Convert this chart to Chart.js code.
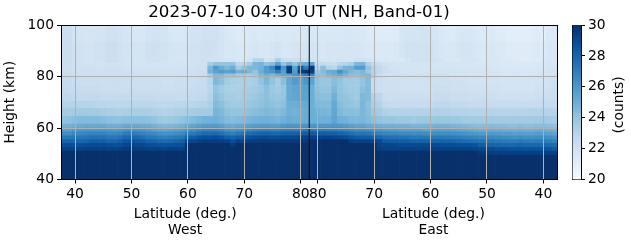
<!doctype html>
<html lang="en">

<head>
	<meta charset="utf-8">
	<title>2023-07-10 04:30 UT (NH, Band-01)</title>
	<style>
		* {
			margin: 0;
			padding: 0;
		}

		body {
			background: white;
			overflow: hidden;
		}

		canvas {
			position: absolute;
			top: 0;
		}

		#heatChart {
			left: 0;
		}

		#barChart {
			left: 560px;
		}
	</style>
</head>

<body>
	<canvas id="heatChart" width="598" height="243"></canvas>
	<canvas id="barChart" width="71" height="243"></canvas>
	<script src="https://cdn.jsdelivr.net/npm/chart.js"></script>

	<script>
		const chartTitle = '2023-07-10 04:30 UT (NH, Band-01)'

		// column latitudes, left to right: west going to the pole, then east coming back
		const latWest = [38, 39, 40, 41, 42, 43, 44, 45, 46, 47, 48, 49, 50, 51, 52, 53, 54, 55, 56, 57, 58, 59, 60, 61, 62, 63, 64, 65, 66, 67, 68, 69, 70, 71, 72, 73, 74, 75, 76, 77, 78, 79, 80, 81]
		const latEast = [81, 80, 79, 78, 77, 76, 75, 74, 73, 72, 71, 70, 69, 68, 67, 66, 65, 64, 63, 62, 61, 60, 59, 58, 57, 56, 55, 54, 53, 52, 51, 50, 49, 48, 47, 46, 45, 44, 43, 42, 41, 40, 39, 38]
		const poleLat = 81.5

		const xTickLats = [40, 50, 60, 70, 80]
		const yTicks = [40, 60, 80, 100]

		// height bands in km, bottom edge of each row then the top of the last one
		const bandEdges = [40, 49.5, 51, 52.5, 54, 55.5, 57, 58.5, 60, 61.5, 64.5, 67.5, 70.5, 73.5, 76.5, 79.5, 81, 82.5, 84, 85.5, 87, 93.5, 100]

		// counts per band, saturated below 49.5 km
		const r40 = [30, 30, 30, 30, 30, 30, 30, 30, 30, 30, 30, 30, 30, 30, 30, 30, 30, 30, 30, 30, 30, 30, 30, 30, 30, 30, 30, 30, 30, 30, 30, 30, 30, 30, 30, 30, 30, 30, 30, 30, 30, 30, 30, 30,
			30, 30, 30, 30, 30, 30, 30, 30, 30, 30, 30, 30, 30, 30, 30, 30, 30, 30, 30, 30, 30, 30, 30, 30, 30, 30, 30, 30, 30, 30, 30, 30, 30, 30, 30, 30, 30, 30, 30, 30, 30, 30, 30, 30]
		const r49 = [30, 30, 30, 30, 30, 30, 30, 30, 30, 30, 30, 30, 30, 30, 30, 30, 30, 30, 30, 30, 30, 30, 30, 30, 30, 30, 30, 30, 30, 30, 30, 30, 30, 30, 30, 30, 30, 30, 30, 30, 30, 30, 30, 30,
			30, 30, 30, 30, 30, 30, 30, 30, 30, 30, 30, 30, 30, 30, 30, 30, 30, 30, 30, 30, 30, 30, 30, 30, 30, 30, 30, 30, 30, 30, 29.7, 29.6, 29.5, 29.5, 29.4, 29.4, 29.4, 29.4, 29.4, 29.4, 29.4, 29.4, 29.4, 29.4, 29.4, 29.4, 29.3, 29.2]
		const r51 = [29.3, 29.3, 29.3, 29.3, 29.4, 29.4, 29.4, 29.4, 29.3, 29.3, 29.4, 29.6, 29.6, 29.5, 29.5, 29.4, 29.3, 29.3, 29.2, 29.3, 29.3, 29.3, 30, 30, 30, 30, 30, 30, 30, 30, 30, 30, 30, 30, 30, 30, 30, 30, 30, 30, 30, 30, 30, 30,
			30, 30, 30, 30, 30, 30, 30, 30, 30, 30, 30, 30, 29.5, 29.4, 29.3, 29.3, 29.3, 29.3, 29.3, 29.3, 29.3, 29.3, 29.3, 29.3, 29.3, 29.3, 29.3, 29.3, 29.3, 29.2, 29.1, 29, 29, 28.8, 28.9, 28.8, 28.7, 28.7, 28.6, 28.7, 28.6, 28.7, 28.6, 28.4, 28.3]
		const r52 = [28.9, 28.9, 28.8, 28.8, 28.9, 29, 29, 29, 28.9, 28.8, 28.9, 29.2, 29.2, 29.1, 29.1, 28.9, 28.8, 28.7, 28.6, 28.7, 28.8, 28.8, 30, 30, 30, 30, 30, 30, 30, 30, 29.6, 30, 30, 30, 30, 30, 30, 30, 30, 30, 30, 30, 30, 30,
			30, 30, 30, 30, 30, 30, 30, 30, 30, 30, 30, 30, 29.3, 29.2, 29.2, 29.1, 29, 29, 29, 29.1, 29.1, 29, 29, 28.9, 28.9, 28.9, 28.8, 28.8, 28.8, 28.7, 28.3, 28.1, 28, 28, 27.9, 27.9, 27.9, 28, 27.9, 27.9, 27.9, 27.8, 27.8, 27.7]
		const r54 = [28, 28, 27.9, 27.9, 28, 28.2, 28.2, 28.2, 28, 28, 28.2, 28.6, 28.6, 28.5, 28.4, 28.1, 28, 27.8, 27.7, 27.8, 28, 28.2, 29, 29.2, 29.4, 29.5, 29.5, 29.5, 29.5, 29.3, 28.8, 29.4, 29.3, 29.5, 29.5, 29.6, 29.6, 29.6, 29.6, 29.6, 29.6, 29.6, 29.7, 29.7,
			30, 30, 30, 30, 30, 30, 30, 29.5, 29.4, 29.4, 29.3, 29.2, 29, 28.4, 28.3, 28.3, 28.2, 28.2, 28.1, 28.1, 28.1, 28, 28, 28.1, 28, 28, 27.8, 27.7, 27.6, 27.5, 27.4, 27.4, 27.3, 27.2, 27.2, 27.1, 27.1, 27.2, 27.1, 27, 27.1, 27.1, 27, 26.9]
		const r55 = [27.2, 27.2, 27.3, 27.3, 27.4, 27.5, 27.5, 27.5, 27.3, 27.3, 27.5, 27.9, 27.9, 27.8, 27.6, 27.3, 27.2, 27, 26.9, 27, 27.2, 27.3, 28, 28.3, 28.6, 28.8, 28.8, 28.9, 28.6, 28.2, 28, 28.3, 28.5, 28.7, 28.9, 29, 29, 28.9, 28.9, 29.1, 29.1, 29.1, 29.2, 29.3,
			29.4, 29.3, 29.3, 29.3, 29.2, 29.1, 28.9, 28.6, 28.4, 28.3, 28.3, 28.1, 27.9, 27.6, 27.5, 27.5, 27.4, 27.4, 27.3, 27.3, 27.3, 27.2, 27.2, 27.2, 27.2, 27.1, 27, 26.9, 26.8, 26.7, 26.6, 26.6, 26.6, 26.5, 26.4, 26.4, 26.3, 26.4, 26.3, 26.3, 26.4, 26.4, 26.3, 26.2]
		const r57 = [26.4, 26.4, 26.6, 26.6, 26.7, 26.8, 26.8, 26.8, 26.6, 26.6, 26.7, 27.1, 27.1, 27, 26.8, 26.6, 26.5, 26.3, 26.1, 26.2, 26.4, 26.5, 27, 27.2, 27.5, 27.8, 27.7, 27.8, 27.5, 27.1, 26.9, 27.2, 27.4, 27.7, 27.9, 28, 28, 27.9, 27.9, 28.1, 28.1, 28.1, 28.2, 28.3,
			28.4, 28.3, 28.3, 28.2, 28.2, 28, 27.9, 27.6, 27.4, 27.4, 27.3, 27.1, 26.9, 26.7, 26.6, 26.6, 26.5, 26.5, 26.4, 26.5, 26.4, 26.3, 26.4, 26.4, 26.4, 26.3, 26.2, 26.1, 26, 25.9, 25.8, 25.8, 25.9, 25.8, 25.7, 25.7, 25.6, 25.7, 25.6, 25.6, 25.7, 25.7, 25.6, 25.5]
		const r58 = [25.6, 25.6, 25.8, 25.9, 26, 26, 26, 26, 25.9, 25.8, 25.9, 26.2, 26.2, 26.1, 26, 25.8, 25.6, 25.4, 25.3, 25.4, 25.6, 25.7, 26.1, 26.3, 26.6, 26.8, 26.8, 26.8, 26.6, 26.1, 26, 26.2, 26.4, 26.6, 26.8, 26.9, 26.9, 26.8, 26.8, 27, 27, 27, 27.1, 27.2,
			27.2, 27.1, 27.1, 27, 27, 26.9, 26.8, 26.6, 26.4, 26.4, 26.3, 26.1, 26, 25.8, 25.7, 25.7, 25.6, 25.6, 25.6, 25.6, 25.5, 25.5, 25.6, 25.6, 25.6, 25.5, 25.4, 25.3, 25.2, 25.1, 25, 25, 25.1, 25, 25, 24.9, 24.9, 25, 24.9, 24.9, 25, 25, 24.9, 24.8]
		const r60 = [24.8, 24.8, 25, 25.1, 25.2, 25.2, 25.2, 25.2, 25, 25, 25, 25.2, 25.2, 25.2, 25.1, 25, 24.8, 24.6, 24.5, 24.6, 24.7, 24.8, 25.2, 25.4, 25.6, 25.8, 25.8, 25.8, 25.6, 25.2, 25.1, 25.3, 25.4, 25.6, 25.7, 25.8, 25.8, 25.7, 25.7, 25.9, 26, 26, 26, 26.1,
			26, 25.9, 25.9, 25.9, 26, 25.9, 25.8, 25.6, 25.4, 25.4, 25.2, 25.1, 25, 24.9, 24.9, 24.8, 24.8, 24.8, 24.7, 24.7, 24.7, 24.7, 24.8, 24.8, 24.8, 24.7, 24.6, 24.5, 24.4, 24.3, 24.3, 24.3, 24.4, 24.3, 24.3, 24.2, 24.2, 24.3, 24.2, 24.2, 24.3, 24.3, 24.2, 24.1]
		const r61 = [24.1, 24.1, 24.3, 24.4, 24.4, 24.4, 24.4, 24.3, 24.2, 24.1, 24.1, 24.2, 24.2, 24.2, 24.2, 24.1, 24, 23.8, 23.7, 23.8, 23.9, 24, 24.2, 24.4, 24.6, 24.8, 24.8, 24.9, 24.7, 24.4, 24.3, 24.4, 24.5, 24.7, 24.8, 24.9, 24.9, 24.8, 24.7, 24.9, 25.1, 25, 25, 25.1,
			25, 25, 24.9, 24.9, 25.4, 24.9, 24.8, 24.6, 24.5, 24.6, 24.4, 24.2, 24, 23.9, 23.9, 23.8, 23.8, 23.8, 23.7, 23.8, 23.8, 23.8, 23.9, 23.9, 23.9, 23.8, 23.8, 23.7, 23.6, 23.6, 23.6, 23.6, 23.7, 23.6, 23.6, 23.6, 23.6, 23.6, 23.6, 23.6, 23.7, 23.7, 23.6, 23.5]
		const r64 = [23.6, 23.5, 23.6, 23.7, 23.7, 23.6, 23.6, 23.5, 23.4, 23.4, 23.3, 23.4, 23.4, 23.4, 23.4, 23.4, 23.3, 23.2, 23.1, 23.2, 23.3, 23.3, 23.4, 23.5, 23.6, 23.6, 23.7, 24.7, 24.5, 24.1, 24, 24, 24, 24.2, 24.3, 24.4, 24.5, 24.4, 24.3, 24.5, 24.9, 24.8, 24.9, 25.1,
			25, 24.8, 24.7, 24.6, 25.3, 24.5, 24.3, 24.3, 24.2, 24.6, 24.3, 23.8, 23.5, 23.2, 23.1, 23.1, 23.1, 23.1, 23.1, 23.1, 23.1, 23.1, 23.2, 23.2, 23.2, 23.1, 23.1, 23.1, 23, 23, 23, 23, 23.1, 23, 23, 23, 23, 23, 23, 23, 23.1, 23.1, 23, 23]
		const r67 = [23, 23, 23, 23, 23, 23, 22.9, 22.9, 22.8, 22.8, 22.8, 22.8, 22.8, 22.8, 22.8, 22.8, 22.8, 22.7, 22.7, 22.7, 22.8, 22.8, 22.8, 22.9, 23, 23, 23.3, 24.4, 24.2, 23.8, 23.7, 23.7, 23.7, 23.9, 24, 24.1, 24.3, 24.1, 24, 24.2, 25, 25, 25.1, 25.2,
			25, 24.5, 24.4, 24.4, 25.2, 24.3, 24.1, 24, 23.9, 24.6, 24.2, 23.4, 23.1, 22.6, 22.5, 22.5, 22.5, 22.5, 22.5, 22.5, 22.5, 22.5, 22.7, 22.7, 22.7, 22.6, 22.6, 22.6, 22.5, 22.5, 22.5, 22.5, 22.5, 22.4, 22.4, 22.4, 22.4, 22.4, 22.4, 22.4, 22.5, 22.5, 22.5, 22.5]
		const r70 = [22.7, 22.7, 22.6, 22.6, 22.6, 22.6, 22.6, 22.5, 22.5, 22.5, 22.5, 22.5, 22.5, 22.5, 22.5, 22.5, 22.5, 22.4, 22.4, 22.4, 22.4, 22.4, 22.4, 22.5, 22.6, 22.6, 23, 24.2, 23.9, 23.5, 23.5, 23.4, 23.5, 23.7, 23.8, 24, 24.2, 23.9, 23.8, 24, 25.2, 25.3, 25.4, 25.5,
			25, 24.3, 24.2, 24.2, 24.9, 24.1, 24, 23.8, 23.7, 24.5, 24.4, 23.1, 22.8, 22.3, 22.2, 22.2, 22.2, 22.2, 22.2, 22.2, 22.2, 22.2, 22.4, 22.4, 22.4, 22.3, 22.3, 22.3, 22.2, 22.2, 22.2, 22.2, 22.2, 22.1, 22.1, 22.1, 22.1, 22.1, 22.1, 22.1, 22.2, 22.2, 22.2, 22.3]
		const r73 = [22.6, 22.5, 22.4, 22.4, 22.4, 22.4, 22.4, 22.3, 22.3, 22.3, 22.3, 22.3, 22.3, 22.3, 22.3, 22.3, 22.3, 22.3, 22.2, 22.2, 22.3, 22.3, 22.3, 22.4, 22.5, 22.5, 22.9, 24, 23.7, 23.4, 23.3, 23.3, 23.4, 23.5, 23.6, 23.8, 24.2, 23.8, 23.6, 23.9, 25.2, 25.4, 25.4, 25.6,
			25, 24.1, 24, 24, 24.5, 24, 23.8, 23.7, 23.6, 24.2, 24.4, 22.5, 22.2, 22.1, 22.1, 22.1, 22, 22, 22, 22, 22, 22, 22.2, 22.2, 22.2, 22.1, 22.1, 22.1, 22, 22, 22, 22, 22, 22, 21.9, 21.9, 21.9, 21.9, 21.9, 21.9, 22, 22, 22.1, 22.2]
		const r76 = [22.5, 22.5, 22.3, 22.3, 22.3, 22.3, 22.3, 22.2, 22.2, 22.3, 22.3, 22.2, 22.2, 22.2, 22.2, 22.2, 22.2, 22.2, 22.1, 22.1, 22.2, 22.2, 22.2, 22.3, 22.4, 22.4, 23, 24.5, 24.2, 23.6, 23.4, 23.3, 23.4, 23.3, 23.5, 24, 24.6, 24, 23.5, 24.2, 25.3, 25.8, 25.5, 26,
			25.5, 24, 23.9, 23.9, 24.3, 24, 23.7, 23.7, 23.6, 24, 24.4, 22.5, 22.2, 22.1, 22, 22, 22, 22, 22, 22, 22, 22.1, 22.1, 22.1, 22.1, 22, 22, 22, 21.9, 21.9, 21.9, 21.9, 21.9, 21.9, 21.8, 21.8, 21.8, 21.8, 21.8, 21.8, 21.9, 21.9, 22, 22.1]
		const r79 = [22.4, 22.4, 22.2, 22.2, 22.2, 22.2, 22.2, 22.2, 22.2, 22.2, 22.2, 22.2, 22.1, 22.1, 22.1, 22.1, 22.1, 22.1, 22.1, 22.1, 22.1, 22.1, 22.1, 22.2, 22.3, 22.3, 23.5, 24.5, 24.5, 24, 24, 23.5, 23.5, 23.5, 23.8, 24.5, 25, 24.5, 25, 25.3, 25.5, 26, 26.5, 27,
			26.8, 24.2, 24.2, 24.6, 24.9, 25.2, 24.6, 24.2, 24.2, 24.4, 24.5, 23, 22.3, 22.1, 22, 22, 22, 22, 22, 22, 22, 22, 22, 22, 22, 21.9, 21.9, 21.9, 21.8, 21.8, 21.8, 21.8, 21.8, 21.8, 21.7, 21.7, 21.7, 21.7, 21.7, 21.7, 21.8, 21.8, 21.9, 22]
		const r81 = [22.3, 22.3, 22.1, 22.1, 22.1, 22.1, 22.1, 22.1, 22.1, 22.1, 22.1, 22, 22, 22, 22, 22, 22, 22, 22, 22, 22, 22, 22, 22.1, 22.2, 22.2, 24.8, 25.5, 25.8, 25.5, 25.7, 24.8, 25.2, 24.5, 24, 25, 25.7, 26, 27, 25.7, 29.5, 25.8, 29.3, 29.8,
			29.5, 23.8, 24.3, 25, 25.2, 26.2, 25.2, 24.5, 24.3, 24.5, 23.8, 23, 22.6, 22.2, 22, 22, 21.9, 21.9, 21.9, 21.9, 21.9, 21.9, 21.9, 21.9, 21.9, 21.9, 21.8, 21.8, 21.8, 21.8, 21.8, 21.8, 21.7, 21.7, 21.6, 21.6, 21.6, 21.6, 21.6, 21.6, 21.7, 21.7, 21.8, 21.8]
		const r82 = [22.2, 22.2, 22, 22, 22, 22, 22, 22, 22, 22, 22, 21.9, 21.9, 21.9, 21.9, 21.9, 21.9, 21.9, 21.9, 21.9, 21.9, 21.9, 21.9, 22, 22.1, 22.1, 24.5, 25.8, 25, 24.5, 25, 23.5, 24, 24.5, 24.5, 24.8, 25.7, 26.5, 28.7, 26, 29.5, 25.5, 28.5, 27,
			29.7, 23, 24.3, 23, 22.8, 24, 24.7, 24.8, 25.7, 25.8, 24, 23.1, 22.6, 22.2, 21.9, 21.9, 21.9, 21.8, 21.8, 21.8, 21.8, 21.8, 21.8, 21.8, 21.8, 21.8, 21.7, 21.7, 21.7, 21.7, 21.7, 21.7, 21.6, 21.6, 21.5, 21.5, 21.5, 21.5, 21.5, 21.5, 21.6, 21.6, 21.7, 21.7]
		const r84 = [22.2, 22.2, 22, 22, 21.9, 21.9, 21.9, 21.9, 22, 22, 21.9, 21.8, 21.8, 21.8, 21.8, 21.9, 21.9, 21.9, 21.9, 21.8, 21.8, 21.8, 21.8, 21.9, 22, 22, 23.5, 24, 24, 24, 24, 22.8, 23, 23.5, 24.5, 24.7, 24, 24.3, 25.5, 24, 24.8, 24, 24.8, 25,
			25.5, 22.4, 22.6, 22.4, 22.3, 22.8, 23, 23.3, 24.5, 24.6, 23.2, 22.6, 22.2, 22, 21.9, 21.8, 21.8, 21.8, 21.8, 21.8, 21.8, 21.8, 21.8, 21.7, 21.7, 21.7, 21.7, 21.7, 21.7, 21.6, 21.6, 21.6, 21.6, 21.5, 21.4, 21.4, 21.4, 21.4, 21.4, 21.4, 21.5, 21.5, 21.7, 21.6]
		const r85 = [22.3, 22.3, 22, 22, 21.9, 21.9, 22, 22, 22.2, 22.2, 22, 21.9, 21.8, 21.8, 21.8, 22, 22.1, 22, 22, 21.8, 21.7, 21.7, 21.8, 22, 22, 22.1, 22.1, 22, 21.9, 21.8, 21.7, 21.6, 21.6, 21.8, 23, 23.1, 22, 22.2, 23.5, 22.4, 22.3, 22.3, 22.2, 22.1,
			22, 21.9, 21.8, 21.8, 21.7, 21.8, 21.8, 21.8, 22, 22, 21.8, 21.6, 21.6, 21.5, 21.4, 21.4, 21.5, 21.8, 22, 22, 22, 22, 22, 21.8, 21.6, 21.5, 21.5, 21.7, 21.8, 21.8, 21.6, 21.5, 21.5, 21.6, 21.4, 21.4, 21.3, 21.2, 21.2, 21.2, 21.3, 21.4, 21.6, 21.6]
		const r87 = [22.3, 22.3, 22, 22, 21.9, 21.9, 22, 22, 22.2, 22.2, 22, 21.9, 21.8, 21.8, 21.8, 22, 22.1, 22, 22, 21.8, 21.7, 21.7, 21.8, 22, 22, 22.1, 22.1, 22, 21.9, 21.6, 21.6, 21.5, 21.5, 21.6, 21.7, 21.6, 21.6, 21.7, 21.9, 21.6, 21.6, 21.7, 21.7, 21.8,
			21.8, 21.7, 21.6, 21.7, 21.7, 21.7, 21.7, 21.7, 21.7, 21.6, 21.5, 21.5, 21.4, 21.4, 21.4, 21.5, 21.8, 22, 22, 22, 22, 22, 21.8, 21.6, 21.5, 21.5, 21.7, 21.8, 21.8, 21.6, 21.5, 21.5, 21.6, 21.4, 21.4, 21.3, 21.2, 21.2, 21.2, 21.3, 21.4, 21.3, 21.6, 21.6]
		const r93 = [22.2, 22.2, 21.8, 21.8, 21.7, 21.7, 21.8, 21.8, 22, 22, 21.9, 21.7, 21.6, 21.6, 21.6, 21.8, 21.9, 21.9, 21.8, 21.6, 21.5, 21.5, 21.6, 21.9, 21.9, 22, 22, 22, 21.8, 21.5, 21.4, 21.3, 21.3, 21.4, 21.5, 21.4, 21.4, 21.4, 21.5, 21.4, 21.4, 21.5, 21.5, 21.6,
			21.6, 21.5, 21.4, 21.5, 21.5, 21.5, 21.6, 21.6, 21.5, 21.4, 21.3, 21.3, 21.2, 21.2, 21.2, 21.3, 21.7, 21.8, 21.8, 21.8, 21.9, 21.8, 21.7, 21.4, 21.3, 21.3, 21.5, 21.6, 21.6, 21.4, 21.3, 21.3, 21.4, 21.2, 21.2, 21.1, 21, 21, 21, 21.1, 21.2, 21.1, 21.4, 21.4]

		const bands = [r40, r49, r51, r52, r54, r55, r57, r58, r60, r61, r64, r67, r70, r73, r76, r79, r81, r82, r84, r85, r87, r93]

		// matplotlib Blues
		const blues = ['#f7fbff', '#deebf7', '#c6dbef', '#9ecae1', '#6baed6', '#4292c6', '#2171b5', '#08519c', '#08306b']
		const cmin = 20
		const cmax = 30

		function toRgb(hex) {
			return [1, 3, 5].map(i => parseInt(hex.slice(i, i + 2), 16))
		}

		function countColor(v) {
			const t = Math.min(Math.max((v - cmin) / (cmax - cmin), 0), 1) * (blues.length - 1)
			const i = Math.min(Math.floor(t), blues.length - 2)
			const a = toRgb(blues[i])
			const b = toRgb(blues[i + 1])
			const c = a.map((p, k) => Math.round(p + (b[k] - p) * (t - i)))
			return 'rgb(' + c.join(',') + ')'
		}

		const fontFamily = '"DejaVu Sans", sans-serif'
		Chart.defaults.font.family = fontFamily
		Chart.defaults.font.size = 13.89
		Chart.defaults.color = '#000'
		Chart.defaults.animation = false

		// x axis runs through the pole: negative is west, positive is east
		const colX = latWest.map(l => l - poleLat).concat(latEast.map(l => poleLat - l))
		const xTickPos = xTickLats.map(l => l - poleLat).concat(xTickLats.slice().reverse().map(l => poleLat - l))
		const xTickText = xTickLats.concat(xTickLats.slice().reverse())
		const poleLine = [{ x: 0, y: 40 }, { x: 0, y: 100 }]

		const heatSets = bands.map((vals, b) => ({
			type: 'bar',
			data: vals.map((v, i) => ({ x: colX[i], y: [bandEdges[b], bandEdges[b + 1]] })),
			backgroundColor: vals.map(countColor),
			borderWidth: 0,
			grouped: false,
			barPercentage: 1,
			categoryPercentage: 1,
			order: 2
		}))

		const sideLabels = {
			id: 'sideLabels',
			afterDraw(chart) {
				const c = chart.ctx
				const x = chart.scales.x
				c.save()
				c.fillStyle = '#000'
				c.textAlign = 'center'
				c.textBaseline = 'middle'
				c.font = '13.89px ' + fontFamily
				c.fillText('Latitude (deg.)', x.getPixelForValue(-22), 214)
				c.fillText('West', x.getPixelForValue(-22), 230)
				c.fillText('Latitude (deg.)', x.getPixelForValue(22), 214)
				c.fillText('East', x.getPixelForValue(22), 230)
				c.restore()
			}
		}

		new Chart(document.getElementById('heatChart'), {
			type: 'bar',
			data: {
				datasets: heatSets.concat([{
					type: 'line',
					data: poleLine,
					borderColor: '#000',
					borderWidth: 1,
					pointRadius: 0,
					order: 1
				}])
			},
			options: {
				responsive: false,
				devicePixelRatio: 1,
				plugins: {
					legend: { display: false },
					tooltip: { enabled: false },
					title: {
						display: true,
						text: chartTitle,
						color: '#000',
						font: { size: 16.67, weight: 'normal' },
						padding: { top: 3, bottom: 2 }
					}
				},
				scales: {
					x: {
						type: 'linear',
						offset: false,
						min: -44,
						max: 44,
						afterBuildTicks: s => { s.ticks = xTickPos.map(v => ({ value: v })) },
						afterFit: s => { s.height = 63.5 },
						ticks: {
							autoSkip: false,
							maxRotation: 0,
							padding: 3,
							callback: (v, i) => xTickText[i]
						},
						border: { color: '#000', z: 2 },
						grid: { z: 1, color: '#b0b0b0', tickColor: '#000', tickLength: 4, offset: false }
					},
					y: {
						min: 40,
						max: 100,
						afterBuildTicks: s => { s.ticks = yTicks.map(v => ({ value: v })) },
						afterFit: s => { s.width = 61 },
						ticks: { padding: 3 },
						title: { display: true, text: 'Height (km)', padding: { top: 2, bottom: 0 } },
						border: { color: '#000', z: 2 },
						grid: { z: 1, color: '#b0b0b0', tickColor: '#000', tickLength: 4 }
					},
					// frame only
					x2: {
						type: 'linear',
						position: 'top',
						min: 0,
						max: 1,
						afterFit: s => { s.height = 0 },
						ticks: { display: false },
						border: { color: '#000', z: 2 },
						grid: { drawOnChartArea: false, drawTicks: false }
					},
					y2: {
						type: 'linear',
						position: 'right',
						min: 0,
						max: 1,
						afterFit: s => { s.width = 40.5 },
						ticks: { display: false },
						border: { color: '#000', z: 2 },
						grid: { drawOnChartArea: false, drawTicks: false }
					}
				}
			},
			plugins: [sideLabels]
		})

		// colorbar
		const cbRange = [cmin, cmax]
		const cbTicks = [20, 22, 24, 26, 28, 30]

		const countsLabel = {
			id: 'countsLabel',
			afterDraw(chart) {
				const c = chart.ctx
				c.save()
				c.translate(59, 105)
				c.rotate(-Math.PI / 2)
				c.fillStyle = '#000'
				c.textAlign = 'center'
				c.textBaseline = 'middle'
				c.font = '13.89px ' + fontFamily
				c.fillText('(counts)', 0, 0)
				c.restore()
			}
		}

		new Chart(document.getElementById('barChart'), {
			type: 'bar',
			data: {
				datasets: [{
					data: [{ x: 0.5, y: cbRange }],
					xAxisID: 'xb',
					yAxisID: 'y',
					barThickness: 8.5,
					borderWidth: 0,
					backgroundColor(ctx) {
						const area = ctx.chart.chartArea
						if (!area) return blues[4]
						const g = ctx.chart.ctx.createLinearGradient(0, area.bottom, 0, area.top)
						blues.forEach((col, i) => g.addColorStop(i / (blues.length - 1), col))
						return g
					}
				}]
			},
			options: {
				responsive: false,
				devicePixelRatio: 1,
				plugins: { legend: { display: false }, tooltip: { enabled: false } },
				scales: {
					xb: {
						type: 'linear',
						position: 'bottom',
						offset: false,
						min: 0,
						max: 1,
						afterFit: s => { s.height = 63.5 },
						ticks: { display: false },
						border: { color: '#000' },
						grid: { drawOnChartArea: false, drawTicks: false }
					},
					xt: {
						type: 'linear',
						position: 'top',
						min: 0,
						max: 1,
						afterFit: s => { s.height = 25 },
						ticks: { display: false },
						border: { color: '#000' },
						grid: { drawOnChartArea: false, drawTicks: false }
					},
					y: {
						position: 'right',
						min: cmin,
						max: cmax,
						afterBuildTicks: s => { s.ticks = cbTicks.map(v => ({ value: v })) },
						afterFit: s => { s.width = 50 },
						ticks: { padding: 3 },
						border: { color: '#000' },
						grid: { drawOnChartArea: false, tickColor: '#000', tickLength: 4 }
					},
					yl: {
						type: 'linear',
						position: 'left',
						min: 0,
						max: 1,
						afterFit: s => { s.width = 12.5 },
						ticks: { display: false },
						border: { color: '#000' },
						grid: { drawOnChartArea: false, drawTicks: false }
					}
				}
			},
			plugins: [countsLabel]
		})
	</script>
</body>

</html>
